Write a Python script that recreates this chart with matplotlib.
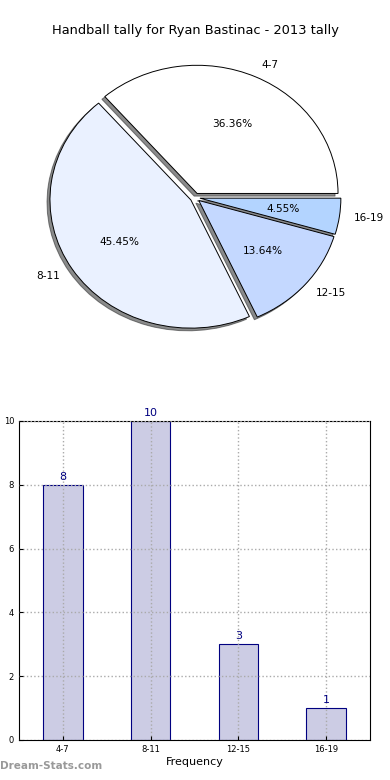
import matplotlib
matplotlib.use("Agg")
import matplotlib.pyplot as plt

# data
groups = ["4-7", "8-11", "12-15", "16-19"]
counts = [8, 10, 3, 1]
pie_colors = ["#FFFFFF", "#EAF1FF", "#C4D8FF", "#B3D4FF"]
title = "Handball tally for Ryan Bastinac - 2013 tally"

fig = plt.figure(figsize=(3.9, 7.8), dpi=100)

# PIE
ax1 = fig.add_axes([0.1026, 0.566, 0.795, 0.3615])
wedges, texts, autotexts = ax1.pie(counts, labels=groups, colors=pie_colors,
                                   explode=[0.035] * len(counts),
                                   shadow={"ox": -0.015, "oy": -0.015, "shade": 0.9},
                                   autopct="%.2f%%", startangle=0,
                                   wedgeprops={"edgecolor": "black", "linewidth": 0.7},
                                   textprops={"fontsize": 7.6})
for t in texts:
    x, y = t.get_position()
    t.set_horizontalalignment("left" if x > 0 else "right")
ax1.set_aspect("auto")
ax1.set_xlim(-1.1, 1.1)
ax1.set_ylim(-1.1, 1.1)
fig.text(0.5, 0.961, title, ha="center", va="center", fontsize=9.4)

# BAR
ax2 = fig.add_axes([0.0487, 0.0513, 0.9, 0.409])
xs = list(range(len(groups)))
bars = ax2.bar(xs, counts, width=0.45, color="#CCCCE4", edgecolor="#000080",
               linewidth=0.8, zorder=2)
for x, v in zip(xs, counts):
    ax2.text(x, v + 0.1, str(v), ha="center", va="bottom", color="#000080", fontsize=8)
ax2.set_xlim(-0.5, 3.5)
ax2.set_ylim(0, 10)
ax2.set_xticks(xs)
ax2.set_xticklabels(groups)
ax2.set_yticks(range(0, 11, 2))
ax2.tick_params(axis="both", which="major", labelsize=6, direction="in", length=3)
ax2.grid(True, linestyle=":", color="#AAAAAA", linewidth=1, zorder=0)
ax2.set_axisbelow(False)
ax2.set_xlabel("Frequency", fontsize=8, labelpad=2)
# the reference has this label partly off the left edge
ax2.set_ylabel("Total Matches", fontsize=7, labelpad=3)

fig.text(0.0, 0.012, "Dream-Stats.com", color="#999999", fontsize=7.5,
         fontweight="bold", ha="left", va="bottom")

plt.savefig("out.png", dpi=100)
